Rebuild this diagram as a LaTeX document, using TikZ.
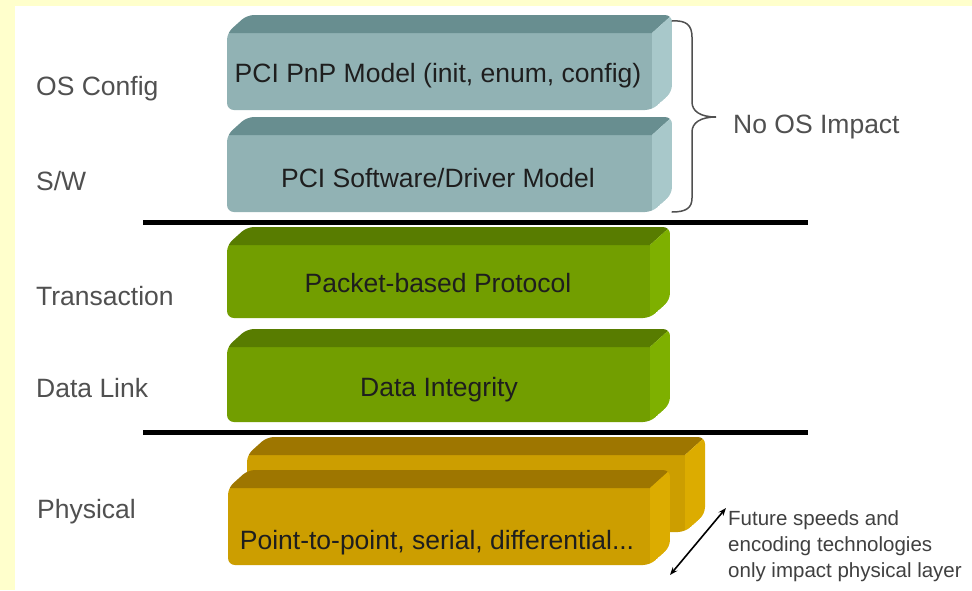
\documentclass[tikz,border=0pt]{standalone}
\usepackage{fontspec}
\setmainfont{Liberation Sans}
\usetikzlibrary{arrows.meta}

\definecolor{paleyellow}{RGB}{255,255,204}
\definecolor{labelgray}{RGB}{80,80,80}
\definecolor{boxink}{RGB}{30,30,30}
\definecolor{bluefront}{RGB}{145,178,180}
\definecolor{bluetop}{RGB}{104,142,144}
\definecolor{blueside}{RGB}{168,200,202}
\definecolor{greenfront}{RGB}{114,158,0}
\definecolor{greentop}{RGB}{88,124,0}
\definecolor{greenside}{RGB}{126,176,0}
\definecolor{goldfront}{RGB}{204,158,0}
\definecolor{goldtop}{RGB}{158,118,0}
\definecolor{goldside}{RGB}{220,172,0}

% Extruded layer box: front face (x1,y1)-(x2,y2), depth going up and right.
\newcommand\layerbox[5]{%
  \begin{scope}
    \clip[rounded corners=7pt] (#1,#4) -- (#1,#2) -- ({#1+20},{#2-18})
      -- ({#3+20},{#2-18}) -- ({#3+20},{#4-18}) -- (#3,#4) -- cycle;
    \fill[#5front] ({#1-5},{#2-1}) rectangle (#3,{#4+5});
    \fill[#5top] (#1,#2) -- ({#1+20},{#2-18}) -- ({#3+20},{#2-18}) -- (#3,#2) -- cycle;
    \fill[#5side] (#3,#2) -- ({#3+20},{#2-18}) -- ({#3+20},{#4-18}) -- (#3,#4) -- cycle;
  \end{scope}}

\begin{document}
\begin{tikzpicture}[x=1pt,y=-1pt,
  lbl/.style={anchor=base west, inner sep=0pt, text=labelgray,
    font=\fontsize{26.5}{30}\selectfont},
  boxtext/.style={anchor=base, inner sep=0pt, text=boxink,
    font=\fontsize{26.5}{30}\selectfont},
  notetext/.style={anchor=base west, inner sep=0pt, text=labelgray!80!black,
    font=\fontsize{20.5}{26}\selectfont},
  sepline/.style={line width=5pt, black},
  bracepen/.style={line width=1.5pt, draw=labelgray, line cap=round},
  twoway/.style={{Stealth[length=8pt,width=6pt]}-{Stealth[length=8pt,width=6pt]}, line width=1.6pt, black}
]
\useasboundingbox (0,0) rectangle (972,590);
\fill[paleyellow] (0,0) rectangle (972,590);
\fill[white] (15,6) rectangle (972,590);

% layer boxes
\layerbox{227}{33}{652}{110}{blue}
\layerbox{227}{135}{652}{212}{blue}
\layerbox{227}{245}{650}{318}{green}
\layerbox{227}{347}{650}{422}{green}
\layerbox{247}{455}{685}{532}{gold}
\layerbox{228}{488}{650}{565}{gold}

% separators between the stack groups
\coordinate (s1a) at (143,222);
\coordinate (s1b) at (808,222);
\coordinate (s2a) at (143,432);
\coordinate (s2b) at (808,432);
\draw[sepline] (s1a) -- (s1b);
\draw[sepline] (s2a) -- (s2b);

% texts inside the boxes
\node[boxtext] (pnp) at (438,82) {PCI PnP Model (init, enum, config)};
\node[boxtext] (drv) at (438,187) {PCI Software/Driver Model};
\node[boxtext] (pkt) at (438,292) {Packet-based Protocol};
\node[boxtext] (dint) at (439,396) {Data Integrity};
\node[boxtext] (phy) at (437,549) {Point-to-point, serial, differential...};

% layer names
\node[lbl] (osc) at (36,95) {OS Config};
\node[lbl] (sw) at (36,190) {S/W};
\node[lbl] (trn) at (36,305) {Transaction};
\node[lbl] (dl) at (36,397) {Data Link};
\node[lbl] (phl) at (37,518) {Physical};

% brace over the software layers
\coordinate (bt) at (672,21);
\coordinate (tip) at (716,117);
\coordinate (bb) at (672,212);
\draw[bracepen] (bt) .. controls (686,20) and (692,25) .. (692,37)
  -- (692,102) .. controls (692,111) and (700,117) .. (tip)
  .. controls (700,117) and (692,123) .. (692,132)
  -- (692,198) .. controls (692,208) and (686,212) .. (bb);
\node[lbl] (noos) at (733,133) {No OS Impact};

% note on the physical layer
\coordinate (ar1) at (670,575);
\coordinate (ar2) at (726,508);
\draw[twoway] (ar1) -- (ar2);
\node[notetext] (n1) at (728,525) {Future speeds and};
\node[notetext] (n2) at (728,551) {encoding technologies};
\node[notetext] (n3) at (728,577) {only impact physical layer};
\end{tikzpicture}
\end{document}
